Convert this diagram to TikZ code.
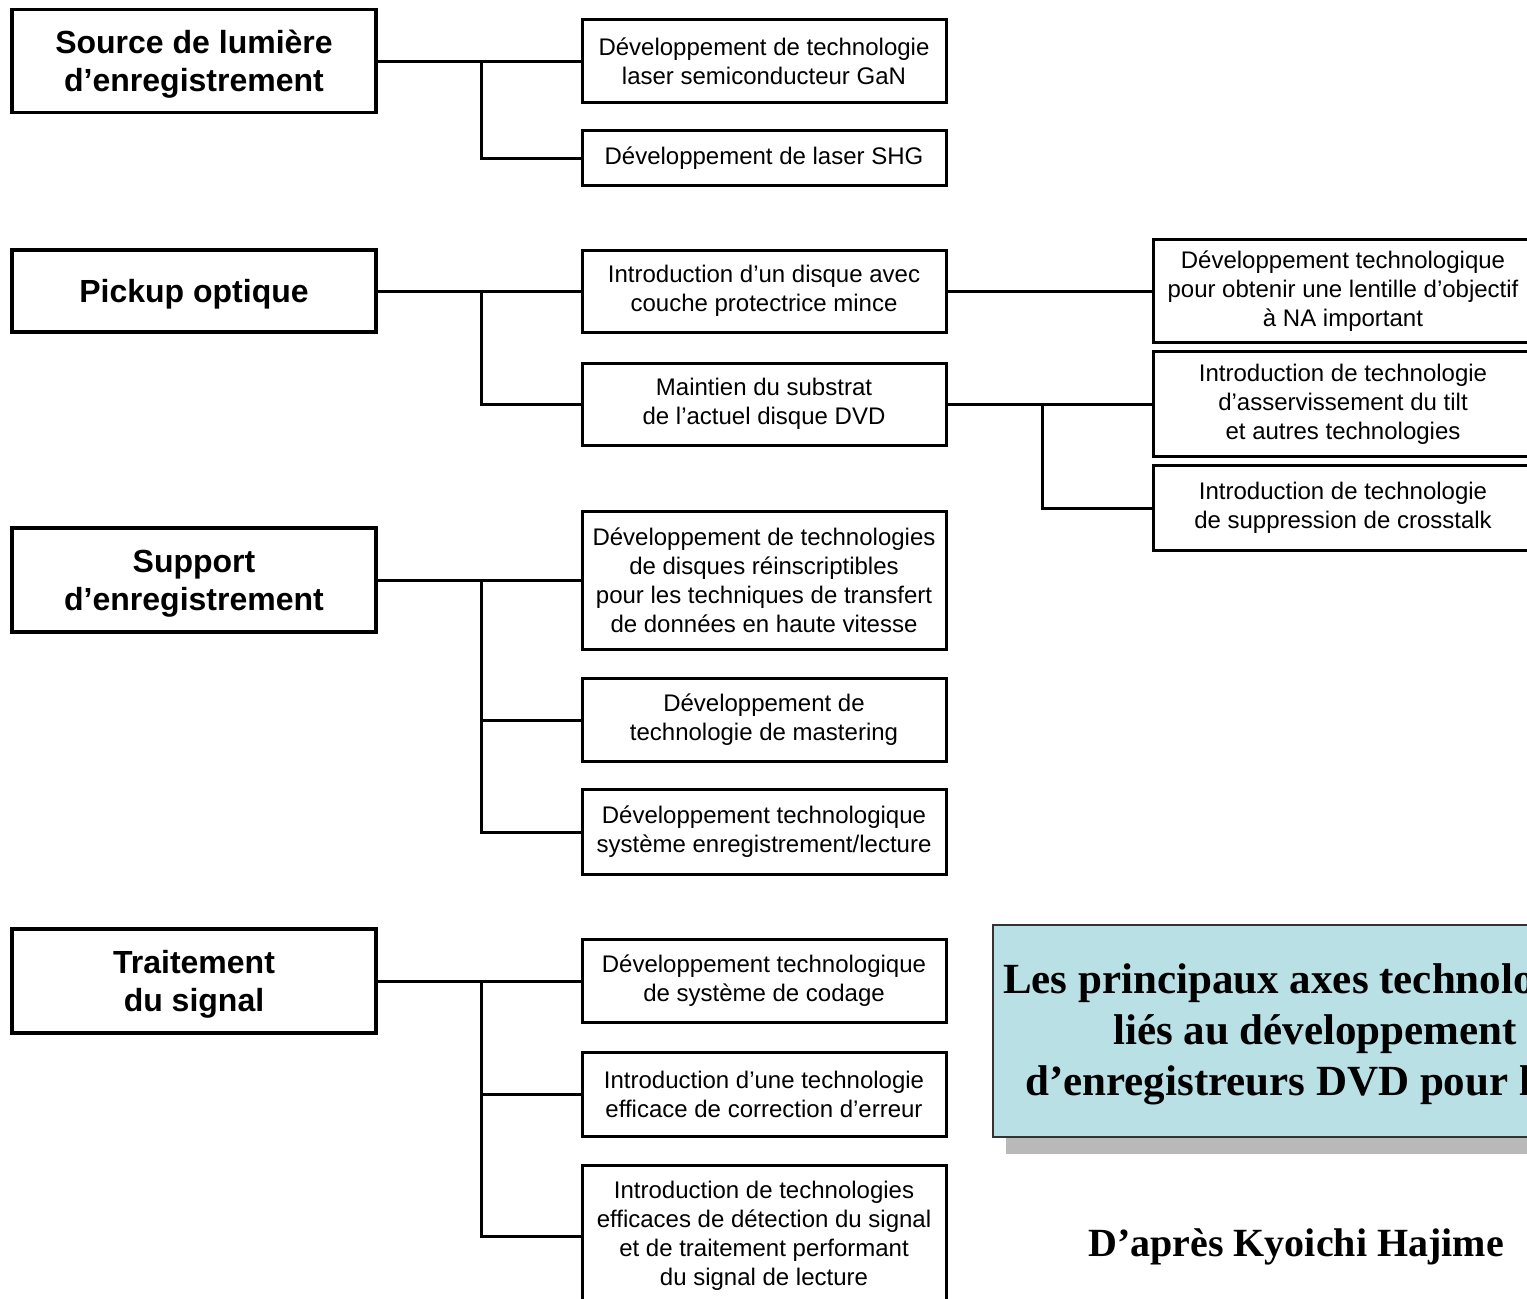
\documentclass[tikz,border=0pt]{standalone}
\usepackage{fontspec}
\setmainfont{Liberation Sans}
\newfontfamily\titlefont{Liberation Serif}
\usetikzlibrary{shadows}
\definecolor{titlefill}{RGB}{185,224,228}

\begin{document}
\begin{tikzpicture}[x=1pt, y=-1pt,
		headbox/.style = {draw, line width=3.5pt, minimum width=364pt, inner sep=0pt, align=center, text depth=0pt,
			font=\fontsize{32}{38}\selectfont\bfseries},
		itembox/.style = {draw, line width=3pt, minimum width=364pt, inner sep=0pt, align=center,
			font=\fontsize{24}{29}\selectfont},
		sidebox/.style = {itembox, minimum width=380pt},
		link/.style = {line width=3pt},
		titletext/.style = {anchor=west, inner sep=0pt, font=\titlefont\bfseries\fontsize{43}{51}\selectfont}]
	\useasboundingbox (0,0) rectangle (1527,1299);
	\clip (0,0) rectangle (1527,1299);

	% left column
	\node [headbox, minimum height=103pt] (source) at (194,61) {Source de lumière\\d’enregistrement};
	\node [headbox, minimum height=82pt] (pickup) at (194,291) {Pickup optique};
	\node [headbox, minimum height=104pt] (support) at (194,580) {Support\\d’enregistrement};
	\node [headbox, minimum height=104pt] (signal) at (194,981) {Traitement\\du signal};

	% middle column
	\node [itembox, minimum height=83pt] (gan) at (764,61) {Développement de technologie\\laser semiconducteur GaN};
	\node [itembox, minimum height=55pt] (shg) at (764,158) {Développement de laser SHG};

	\node [itembox, minimum height=82pt] (mince) at (764,291) {Introduction d’un disque avec\\couche protectrice mince};
	\node [itembox, minimum height=82pt] (dvd) at (764,404) {Maintien du substrat\\de l’actuel disque DVD};

	\node [itembox, minimum height=138pt] (rw) at (764,580) {Développement de technologies\\de disques réinscriptibles\\pour les techniques de transfert\\de données en haute vitesse};
	\node [itembox, minimum height=83pt] (master) at (764,720) {Développement de\\technologie de mastering};
	\node [itembox, minimum height=85pt] (rwsys) at (764,832) {Développement technologique\\système enregistrement/lecture};

	\node [itembox, minimum height=83pt] (codage) at (764,981) {Développement technologique\\de système de codage};
	\node [itembox, minimum height=84pt] (ecc) at (764,1094) {Introduction d’une technologie\\efficace de correction d’erreur};
	\node [itembox, minimum height=142pt] (detect) at (764,1236) {Introduction de technologies\\efficaces de détection du signal\\et de traitement performant\\du signal de lecture};

	% right column
	\node [sidebox, minimum height=103pt] (objectif) at (1343,291) {Développement technologique\\pour obtenir une lentille d’objectif\\à NA important};
	\node [sidebox, minimum height=105pt] (tilt) at (1343,404) {Introduction de technologie\\d’asservissement du tilt\\et autres technologies};
	\node [sidebox, minimum height=85pt] (crosstalk) at (1343,508) {Introduction de technologie\\de suppression de crosstalk};

	% connectors
	\coordinate (forkA) at (481,61);
	\coordinate (forkB) at (481,291);
	\coordinate (forkC) at (481,580);
	\coordinate (forkD) at (481,981);
	\coordinate (forkE) at (1042,404);

	\draw [link] (source) -- (gan);
	\draw [link] (forkA) |- (shg.west);
	\draw [link] (pickup) -- (mince);
	\draw [link] (forkB) |- (dvd.west);
	\draw [link] (support) -- (rw);
	\foreach \n in {master, rwsys}
		\draw [link] (forkC) |- (\n.west);
	\draw [link] (signal) -- (codage);
	\foreach \n in {ecc, detect}
		\draw [link] (forkD) |- (\n.west);
	\draw [link] (mince) -- (objectif);
	\draw [link] (dvd) -- (tilt);
	\draw [link] (forkE) |- (crosstalk.west);

	% title
	\node [draw=black!80, line width=1.5pt, fill=titlefill, minimum width=700pt, minimum height=212pt, anchor=north west,
		drop shadow={shadow xshift=13pt, shadow yshift=-17pt, fill=gray!55, opacity=1}] (titlebg) at (992,924) {};
	\node [titletext] (title1) at (1003,983) {Les principaux axes technologiques};
	\node [titletext] (title2) at (1113,1034) {liés au développement};
	\node [titletext] (title3) at (1025,1085) {d’enregistreurs DVD pour la};

	\node [font=\titlefont\bfseries\fontsize{40}{48}\selectfont] (auteur) at (1296,1247) {D’après Kyoichi Hajime};
\end{tikzpicture}
\end{document}
